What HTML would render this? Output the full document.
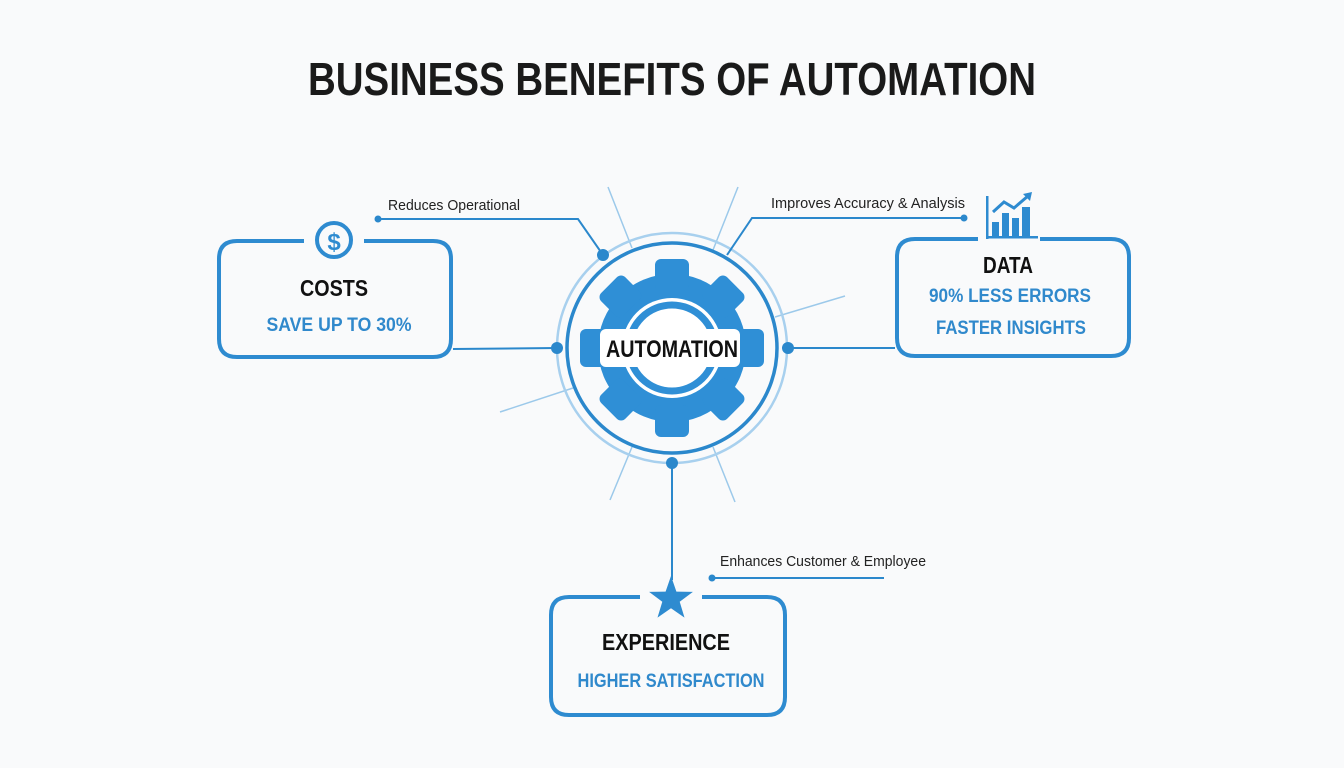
<!DOCTYPE html>
<html><head><meta charset="utf-8"><style>
html,body{margin:0;padding:0;background:#f9fafb;}
svg{display:block;}
text{font-family:"Liberation Sans",sans-serif;}
</style></head><body>
<svg width="1344" height="768" viewBox="0 0 1344 768" xmlns="http://www.w3.org/2000/svg">
<rect width="1344" height="768" fill="#f9fafb"/>
<text x="308" y="95" font-size="46" font-weight="bold" fill="#1a1a1a" textLength="728" lengthAdjust="spacingAndGlyphs">BUSINESS BENEFITS OF AUTOMATION</text>

<g stroke="#9cc9ea" stroke-width="1.5">
<line x1="608" y1="187" x2="632" y2="248"/>
<line x1="738" y1="187" x2="713" y2="250"/>
<line x1="845" y1="296" x2="775" y2="317"/>
<line x1="500" y1="412" x2="573" y2="388"/>
<line x1="632" y1="447" x2="610" y2="500"/>
<line x1="713" y1="447" x2="735" y2="502"/>
</g>

<circle cx="672" cy="348" r="115" fill="none" stroke="#a8d0ee" stroke-width="2.5"/>
<circle cx="672" cy="348" r="105" fill="none" stroke="#2b88cc" stroke-width="3.5"/>

<g fill="#2f8fd6" transform="translate(672,348)">
<circle r="74"/>
<g id="t"><rect x="-17" y="-89" width="34" height="32" rx="6"/></g>
<use href="#t" transform="rotate(45)"/>
<use href="#t" transform="rotate(135)"/>
<use href="#t" transform="rotate(180)"/>
<use href="#t" transform="rotate(225)"/>
<use href="#t" transform="rotate(315)"/>
<rect x="-92" y="-19" width="30" height="38" rx="6"/>
<rect x="62" y="-19" width="30" height="38" rx="6"/>
<circle r="50" fill="#ffffff"/>
<circle r="43" fill="none" stroke="#2f8fd6" stroke-width="7"/>
<rect x="-72" y="-19" width="140" height="38" rx="6" fill="#ffffff"/>
</g>
<text x="672" y="357" text-anchor="middle" font-size="24" font-weight="bold" fill="#111" textLength="132" lengthAdjust="spacingAndGlyphs">AUTOMATION</text>

<g stroke="#2b88cc" stroke-width="2" fill="none">
<line x1="453" y1="349" x2="557" y2="348"/>
<line x1="788" y1="348" x2="895" y2="348"/>
<line x1="672" y1="463" x2="672" y2="580"/>
<polyline points="378,219 578,219 603,255"/>
<polyline points="964,218 752,218 727,255"/>
<line x1="712" y1="578" x2="884" y2="578"/>
</g>
<g fill="#2b88cc">
<circle cx="603" cy="255" r="6"/>
<circle cx="557" cy="348" r="6"/>
<circle cx="788" cy="348" r="6"/>
<circle cx="672" cy="463" r="6"/>
<circle cx="378" cy="219" r="3.5"/>
<circle cx="964" cy="218" r="3.5"/>
<circle cx="712" cy="578" r="3.5"/>
</g>

<text x="388" y="210" font-size="15" fill="#222" textLength="132" lengthAdjust="spacingAndGlyphs">Reduces Operational</text>
<text x="771" y="208" font-size="15" fill="#222" textLength="194" lengthAdjust="spacingAndGlyphs">Improves Accuracy &amp; Analysis</text>
<text x="720" y="566" font-size="15" fill="#222" textLength="206" lengthAdjust="spacingAndGlyphs">Enhances Customer &amp; Employee</text>

<g stroke="#2e8bd0" stroke-width="4" fill="none">
<path d="M304 241 H237 Q219 241 219 259 V339 Q219 357 237 357 H433 Q451 357 451 339 V259 Q451 241 433 241 H364"/>
<path d="M978 239 H915 Q897 239 897 257 V338 Q897 356 915 356 H1111 Q1129 356 1129 338 V257 Q1129 239 1111 239 H1040"/>
<path d="M640 597 H569 Q551 597 551 615 V697 Q551 715 569 715 H767 Q785 715 785 697 V615 Q785 597 767 597 H702"/>
</g>

<circle cx="334" cy="240" r="17" fill="#f9fafb" stroke="#2e8bd0" stroke-width="4"/>
<text x="334" y="250" text-anchor="middle" font-size="24" font-weight="bold" fill="#2e8bd0">$</text>

<g fill="#2e8bd0">
<rect x="986" y="196" width="2.5" height="43"/>
<rect x="986" y="236" width="52" height="2.5"/>
<rect x="992" y="222" width="7" height="14"/>
<rect x="1002" y="213" width="7" height="23"/>
<rect x="1012" y="218" width="7" height="18"/>
<rect x="1022" y="207" width="8" height="29"/>
<polygon points="1023,194 1032,192 1030,201"/>
</g>
<polyline points="993,212 1004,202 1014,208 1028,196" fill="none" stroke="#2e8bd0" stroke-width="3"/>

<polygon fill="#2e8bd0" transform="translate(671,599)" points="0,-23 5.4,-7.4 21.9,-7.1 8.7,2.8 13.5,18.6 0,9.3 -13.5,18.6 -8.7,2.8 -21.9,-7.1 -5.4,-7.4"/>

<text x="334" y="296" text-anchor="middle" font-size="23" font-weight="bold" fill="#111" textLength="68" lengthAdjust="spacingAndGlyphs">COSTS</text>
<text x="339" y="331" text-anchor="middle" font-size="19" font-weight="bold" fill="#3089cc" textLength="145" lengthAdjust="spacingAndGlyphs">SAVE UP TO 30%</text>
<text x="1008" y="273" text-anchor="middle" font-size="23" font-weight="bold" fill="#111" textLength="50" lengthAdjust="spacingAndGlyphs">DATA</text>
<text x="1010" y="302" text-anchor="middle" font-size="19" font-weight="bold" fill="#3089cc" textLength="162" lengthAdjust="spacingAndGlyphs">90% LESS ERRORS</text>
<text x="1011" y="334" text-anchor="middle" font-size="19" font-weight="bold" fill="#3089cc" textLength="150" lengthAdjust="spacingAndGlyphs">FASTER INSIGHTS</text>
<text x="666" y="650" text-anchor="middle" font-size="23" font-weight="bold" fill="#111" textLength="128" lengthAdjust="spacingAndGlyphs">EXPERIENCE</text>
<text x="671" y="687" text-anchor="middle" font-size="19" font-weight="bold" fill="#3089cc" textLength="187" lengthAdjust="spacingAndGlyphs">HIGHER SATISFACTION</text>
</svg>
</body></html>
